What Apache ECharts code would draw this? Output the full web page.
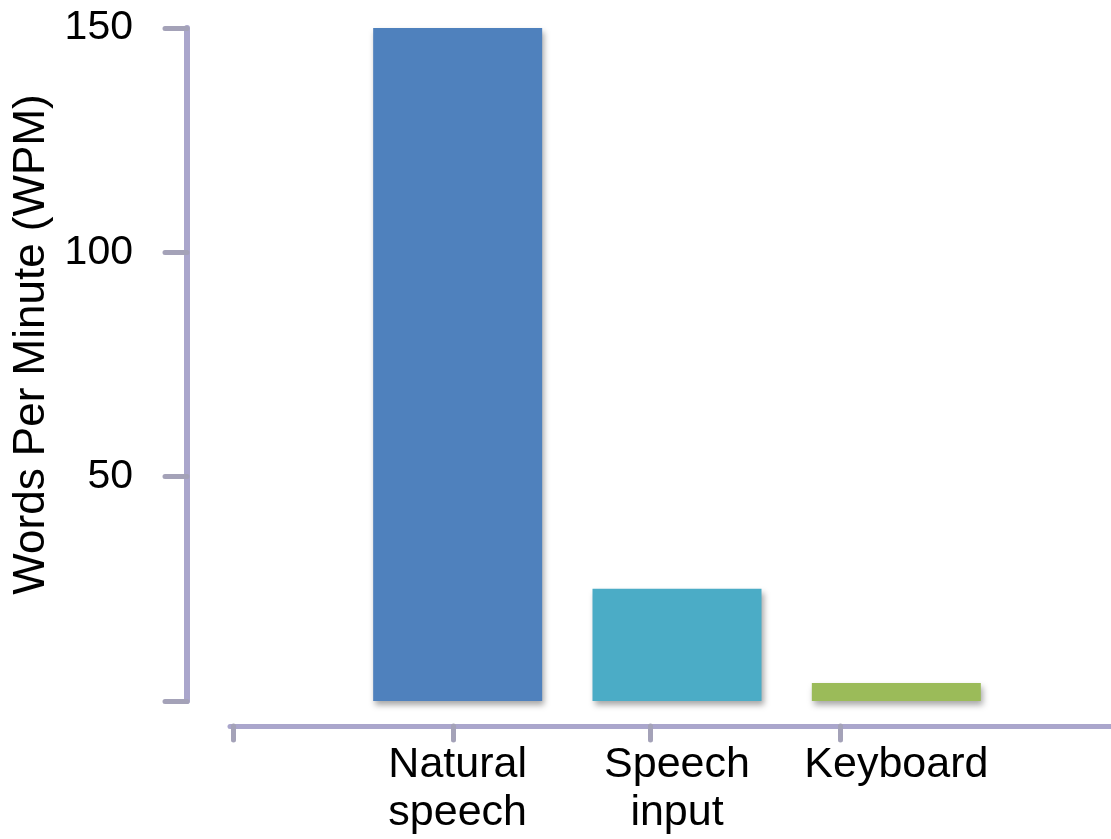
<!DOCTYPE html>
<html>
<head>
<meta charset="utf-8">
<script src="https://cdn.jsdelivr.net/npm/echarts@6/dist/echarts.min.js"></script>
<style>
  html, body { margin: 0; padding: 0; background: #fff; }
  #chart { width: 1111px; height: 839px; }
</style>
</head>
<body>
<div id="chart"></div>
<script>
// 数据
const categories = ['Natural\nspeech', 'Speech\ninput', 'Keyboard'];
const wpm = [150, 25, 4];
const barColors = ['#4f81bd', '#4bacc6', '#9bbb59'];
const yTicks = [0, 50, 100, 150];

const axisColor = '#aaa6cc';
const font = 'Liberation Sans, Arial, sans-serif';

const chart = echarts.init(document.getElementById('chart'));
chart.setOption({
  animation: false,
  grid: [
    { left: 348, right: 105, top: 28, bottom: 138 },   // 柱状图区域
    { left: 230, right: 0, top: 28, bottom: 113 }      // 下方横轴线
  ],
  xAxis: [
    {
      type: 'category',
      gridIndex: 0,
      data: categories,
      axisLine: { show: false },
      axisTick: { show: false },
      axisLabel: {
        interval: 0,
        hideOverlap: false,
        margin: 40,
        color: '#000',
        fontSize: 43,
        lineHeight: 48,
        fontFamily: font
      }
    },
    {
      type: 'value',
      gridIndex: 1,
      min: 0,
      max: 881,
      axisLine: { show: true, lineStyle: { color: axisColor, width: 5, cap: 'round' } },
      axisTick: {
        show: true,
        customValues: [3, 223, 420, 610],
        length: 14,
        lineStyle: { color: '#a4a2b8', width: 5, cap: 'round' }
      },
      axisLabel: { show: false },
      splitLine: { show: false }
    }
  ],
  yAxis: [
    {
      type: 'value',
      gridIndex: 0,
      min: yTicks[0],
      max: yTicks[yTicks.length - 1],
      interval: 50,
      offset: 161,
      name: 'Words Per Minute (WPM)',
      nameLocation: 'middle',
      nameGap: 130,
      nameRotate: 90,
      nameTextStyle: { color: '#000', fontSize: 44, fontFamily: font, padding: [0, 0, 0, 40] },
      axisLine: { show: true, lineStyle: { color: axisColor, width: 6, cap: 'round' } },
      axisTick: { show: true, length: 22, lineStyle: { color: '#a4a2b8', width: 5, cap: 'round' } },
      axisLabel: {
        margin: 54,
        color: '#000',
        fontSize: 41,
        fontFamily: font,
        formatter: v => (v === 0 ? '' : String(v))
      },
      splitLine: { show: false }
    },
    { type: 'value', gridIndex: 1, show: false }
  ],
  series: [{
    type: 'bar',
    xAxisIndex: 0,
    yAxisIndex: 0,
    barWidth: 169,
    data: wpm.map((v, i) => ({
      value: v,
      itemStyle: {
        color: barColors[i],
        shadowColor: 'rgba(0,0,0,0.35)',
        shadowBlur: 6,
        shadowOffsetX: 2,
        shadowOffsetY: 4
      }
    }))
  }]
});
</script>
</body>
</html>
